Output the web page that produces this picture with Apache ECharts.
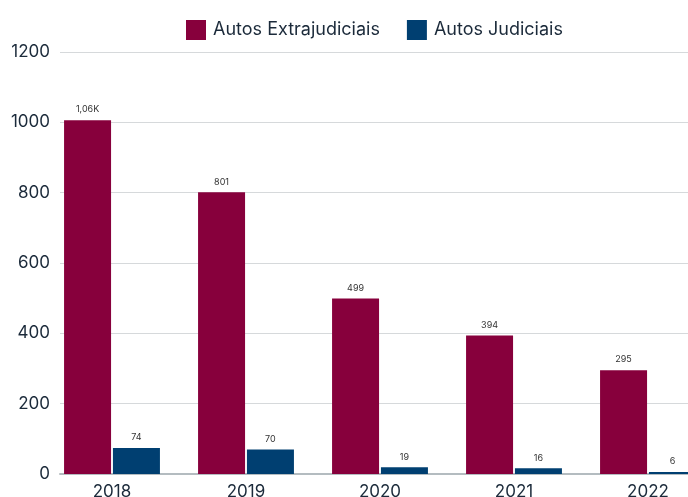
<!DOCTYPE html>
<html>
<head>
<meta charset="utf-8">
<script src="https://cdn.jsdelivr.net/npm/echarts@6/dist/echarts.min.js"></script>
<style>
  html, body { margin: 0; padding: 0; background: #fff; }
  #chart { width: 688px; height: 497px; }
</style>
</head>
<body>
<div id="chart"></div>
<script>
// Autos por ano
const years = ['2018', '2019', '2020', '2021', '2022'];
const extrajudiciais = [1006, 801, 499, 394, 295];
const judiciais = [74, 70, 19, 16, 6];
const yTicks = [0, 200, 400, 600, 800, 1000, 1200];

const FONT = 'Inter, "Open Sans", sans-serif';
const TEXT = '#1b2a3a';

function shortLabel(v) {
  if (v >= 1000) return '1,06K';
  return String(v);
}

const chart = echarts.init(document.getElementById('chart'), null, { renderer: 'canvas' });
chart.setOption({
  animation: false,
  textStyle: { fontFamily: FONT },
  legend: {
    top: 15,
    left: 181,
    itemWidth: 20,
    itemHeight: 20,
    itemGap: 27,
    icon: 'rect',
    textStyle: { fontSize: 18, color: TEXT, fontFamily: FONT, padding: [0, 0, 0, 2] },
    data: ['Autos Extrajudiciais', 'Autos Judiciais']
  },
  grid: [
    // bars (the last group runs past the right edge)
    { left: 45, width: 670, top: 52, bottom: 23, outerBoundsMode: 'none', containLabel: false },
    // value scale, gridlines and baseline
    { left: 60, right: 0, top: 52, bottom: 23, outerBoundsMode: 'none', containLabel: false }
  ],
  xAxis: [
    {
      type: 'category', gridIndex: 0, data: years,
      axisLine: { show: false }, axisTick: { show: false },
      axisLabel: { fontSize: 17, color: TEXT, margin: 9, fontFamily: FONT }
    },
    {
      type: 'value', gridIndex: 1, min: 0, max: 1,
      axisLine: { show: true, lineStyle: { color: '#b4bcc0', width: 2 } },
      axisTick: { show: false }, axisLabel: { show: false }, splitLine: { show: false }
    }
  ],
  yAxis: [
    {
      type: 'value', gridIndex: 0, min: 0, max: 1200, interval: 200,
      axisLine: { show: false }, axisTick: { show: false },
      axisLabel: { show: false }, splitLine: { show: false }
    },
    {
      type: 'value', gridIndex: 1, min: yTicks[0], max: yTicks[yTicks.length - 1], interval: 200,
      axisLine: { show: false }, axisTick: { show: false },
      axisLabel: { fontSize: 17, color: TEXT, margin: 10, fontFamily: FONT, formatter: v => String(v) },
      splitLine: { show: true, lineStyle: { color: '#d6d9db', width: 1 } }
    }
  ],
  series: [
    {
      name: 'Autos Extrajudiciais', type: 'bar', xAxisIndex: 0, yAxisIndex: 0,
      data: extrajudiciais, barWidth: 47, barGap: '4%',
      itemStyle: { color: '#87003c' },
      label: {
        show: true, position: 'top', distance: 6, fontSize: 9, color: '#333',
        formatter: p => shortLabel(p.value)
      },
      z: 3
    },
    {
      name: 'Autos Judiciais', type: 'bar', xAxisIndex: 0, yAxisIndex: 0,
      data: judiciais, barWidth: 47,
      itemStyle: { color: '#003f71' },
      label: { show: true, position: 'top', distance: 6, fontSize: 9, color: '#333' },
      z: 3
    }
  ]
});
</script>
</body>
</html>
